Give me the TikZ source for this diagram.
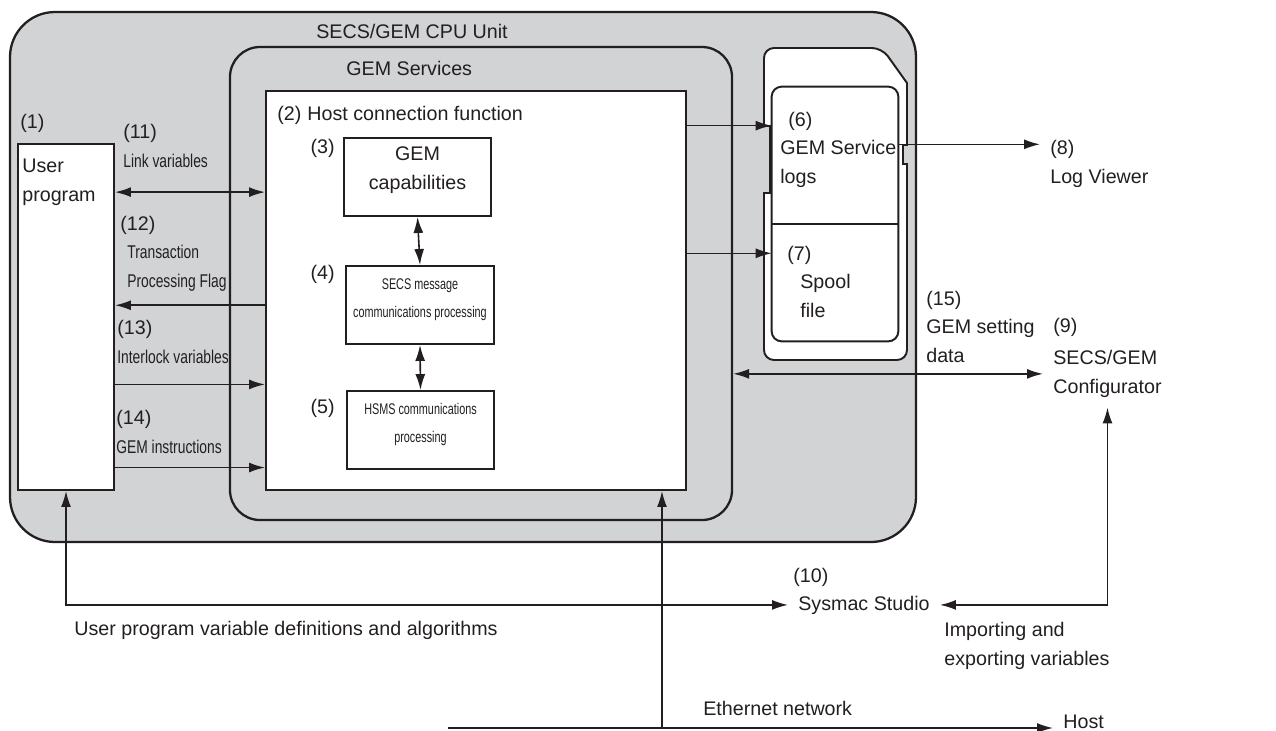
\documentclass[tikz,border=0pt]{standalone}
\usepackage{fontspec}
\setmainfont{Liberation Sans}
\newfontfamily\narrowfont[FakeStretch=0.75]{Liberation Sans}
\newfontfamily\slimfont[FakeStretch=0.7]{Liberation Sans}
\newcommand{\narrowtext}[1]{{\fontsize{10.5}{16}\narrowfont #1}}
\usetikzlibrary{arrows.meta,fit,positioning}
\definecolor{unitgray}{RGB}{209,211,212}
\definecolor{ink}{RGB}{35,31,32}

\begin{document}
\begin{tikzpicture}[x=0.02cm, y=-0.02cm, color=ink]
  % Settings
  \tikzset{
    unit/.style={draw, fill=unitgray, line width=1.3pt, inner sep=0},
    box/.style={draw, fill=white, line width=1.1pt, inner sep=0, align=left, font=\fontsize{11.2}{16}\selectfont},
    slim/.style={box, font=\fontsize{8.8}{16}\slimfont},
    card/.style={fill=white, line width=1.1pt},
    txt/.style={inner sep=0, anchor=base west, align=left, font=\fontsize{11.2}{16}\selectfont},
    num/.style={txt},
    arr/.style={-{Latex[length=0.32cm,width=0.2cm]}, line width=0.9pt},
    dbl/.style={{Latex[length=0.32cm,width=0.2cm]}-{Latex[length=0.32cm,width=0.2cm]}, line width=0.9pt},
  }
  \useasboundingbox (0,0) rectangle (1276,731);

  % Frames
  \node (cpu) [unit, rounded corners=0.9cm, fit={(10,12) (916,542)}] {};
  \node (gems) [unit, rounded corners=0.6cm, fit={(230,47) (732,520)}] {};
  \node (host) [box, fit={(266,91) (686,490)}] {};
  \node (user) [box, fit={(18,144) (114,490)}] {};
  \node[txt] (cpulbl) at (316,38) {SECS/GEM CPU Unit};
  \node[txt] (gemslbl) at (346,75) {GEM Services};
  \node[txt] (hostlbl) at (277,120) {(2)\hspace{0.12cm}Host connection function};
  \node[txt] (num1) at (20,128) {(1)};
  \node[txt] (userlbl) at (22,201) {User\\program};

  % Modules
  \node (caps) [box, fit={(344,138) (491,216)}] {GEM\\capabilities};
  \node (secs) [slim, fit={(346,266) (494,344)}] {SECS message\\communications processing};
  \node (hsms) [slim, fit={(347,391) (494,469)}] {HSMS communications\\processing};
  \node[num, below left=0.04cm and 0.16cm of caps.north west] (num3) {(3)};
  \node[num, below left=0cm and 0.2cm of secs.north west] (num4) {(4)};
  \node[num, below left=0.18cm and 0.22cm of hsms.north west] (num5) {(5)};

  % Memory card
  \draw[card] (770,126) -- (764,126) [rounded corners=0.2cm] -- (764,48) -- (882,48)
    [sharp corners] -- (907,83) -- (907,145) -- (903,145) -- (903,164) -- (907,164)
    [rounded corners=0.2cm] -- (907,360) -- (764,360) [sharp corners] -- (764,193) -- (770,193) -- cycle;
  \node (logs) [inner sep=0, fit={(772,87) (898,224)}] {};
  \node (spool) [inner sep=0, fit={(772,224) (898,341)}] {};
  \draw[line width=1.1pt, rounded corners=0.2cm] (logs.north west) rectangle (spool.south east);
  \draw[line width=1.1pt] (logs.south west) -- (logs.south east);
  \node[txt] (logslbl) at (780,183) {\hspace*{0.16cm}(6)\\GEM Service\\logs};
  \node[txt] (spoollbl) at (787,317) {(7)\\\hspace*{0.26cm}Spool\\\hspace*{0.26cm}file};

  % Tools
  \node[txt, inner sep=0.2cm] (viewer) at (1040,183) {(8)\\Log Viewer};
  \node[txt] (num9) at (1053,332) {(9)};
  \node[txt, inner sep=0.2cm] (cfg) at (1043,393) {SECS/GEM\\Configurator};
  \node[txt] (setting) at (926,362) {(15)\\GEM setting\\data};
  \node[txt] (num10) at (793,582) {(10)};
  \node[txt, inner sep=0.2cm] (sysmac) at (788,610) {Sysmac Studio};
  \node[txt] (defs) at (74,635) {User program variable definitions and algorithms};
  \node[txt] (impexp) at (944,665) {Importing and\\exporting variables};
  \node[txt] (ethlbl) at (703,715) {Ethernet network};
  \node[txt, inner sep=0.2cm] (hostpc) at (1053,728) {Host};
  \coordinate (eth) at (448,728);
  \coordinate (tap) at (662,728);

  % Interface labels
  \node[txt] (lbl11) at (123,167) {(11)\\\narrowtext{Link variables}};
  \node[txt] (lbl12) at (120,287) {(12)\\\hspace*{0.14cm}\narrowtext{Transaction}\\\hspace*{0.14cm}\narrowtext{Processing Flag}};
  \node[txt] (lbl13) at (117,363) {(13)\\\narrowtext{Interlock variables}};
  \node[txt] (lbl14) at (116,453) {(14)\\\narrowtext{GEM instructions}};

  % Arrows
  \draw[dbl] (user.east |- host.155) -- (host.155);
  \draw[arr] (host.184) -- (host.184 -| user.east);
  \draw[arr] (user.east |- host.204) -- (host.204);
  \draw[arr] (user.east |- host.220) -- (host.220);
  \draw[dbl] (caps.south) -- (secs.north);
  \draw[dbl] (secs.south) -- (hsms.north);
  \draw[arr] (host.38) -- (host.38 -| logs.west);
  \draw[arr] (host.10) -- (host.10 -| spool.west);
  \draw[arr] (logs.10) -- (logs.10 -| viewer.west);
  \draw[dbl] (gems.east |- cfg.west) -- (cfg.west);
  \draw[dbl] (sysmac.east) -| (cfg.south);
  \draw[dbl] (user.south) |- (sysmac.west);
  \draw[arr] (eth) -- (eth -| hostpc.west);
  \draw[arr] (tap) -- (tap |- host.south);

\end{tikzpicture}
\end{document}
